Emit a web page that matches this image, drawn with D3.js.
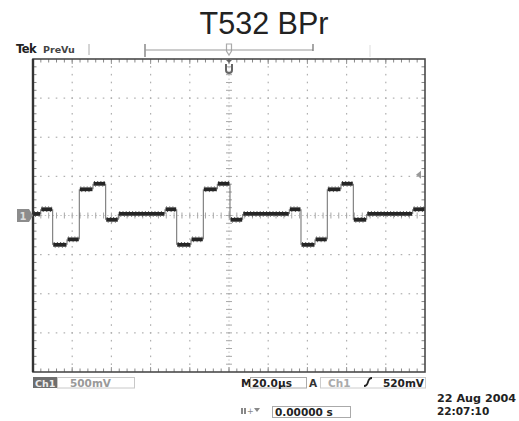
<!DOCTYPE html>
<html>
<head>
<meta charset="utf-8">
<script src="https://cdn.jsdelivr.net/npm/d3@7"></script>
<style>
html,body{margin:0;padding:0;background:#fff;overflow:hidden;}
svg{display:block;}
</style>
</head>
<body>
<script>
// ---- data ----
const title = "T532 BPr";
// step breakpoints of the trace, time in microseconds
const stepTimesUs = [0, 3.93, 10.05, 17.35, 23.62, 30.61, 37.09, 43.52,
  67.35, 73.32, 80.61, 86.89, 94.03, 100.51, 106.99,
  130.77, 136.73, 143.88, 150.15, 157.14, 163.42, 170.26, 193.72];
// level held after each breakpoint, millivolts
const stepLevelsMv = [20, 80, -375, -305, 335, 405, -55, 20,
  80, -375, -305, 335, 405, -55, 20,
  80, -375, -305, 335, 405, -55, 20, 80];
const timeDomainUs = [0, 200];      // 10 div x 20.0 us
const voltDomainMv = [-2000, 2000]; // 8 div x 500 mV
const timeMajorUs = [0, 20, 40, 60, 80, 100, 120, 140, 160, 180, 200];
const voltMajorMv = [-2000, -1500, -1000, -500, 0, 500, 1000, 1500, 2000];
const triggerTimeUs = 100;
const triggerLevelMv = 520;
const ch1Scale = "500mV";
const timeScale = "20.0\u00b5s";
const trigLevelLabel = "520mV";
const positionLabel = "0.00000 s";
const dateLabel = "22 Aug 2004";
const timeLabel = "22:07:10";

// ---- layout ----
const W = 519, H = 421;
const svg = d3.select("body").append("svg").attr("width", W).attr("height", H);
const x = d3.scaleLinear().domain(timeDomainUs).range([33, 425]);
const y = d3.scaleLinear().domain(voltDomainMv).range([372, 59]);

const gridCol = "#b0b0b0";
const minorT = d3.range(timeDomainUs[0], timeDomainUs[1] + 0.001, 4);
const minorV = d3.range(voltDomainMv[0], voltDomainMv[1] + 0.001, 100);

// title
svg.append("text").attr("x", 264).attr("y", 34).attr("text-anchor", "middle")
  .attr("font-family", "Liberation Sans, Arial, sans-serif").attr("font-size", 30.5)
  .attr("fill", "#222").text(title);

const g = svg.append("g");

// dotted major grid lines
timeMajorUs.filter(t => t > timeDomainUs[0] && t < timeDomainUs[1] && t !== triggerTimeUs).forEach(t => {
  g.selectAll(null).data(minorV.slice(1, -1)).join("rect")
    .attr("x", x(t) - 0.6).attr("y", d => y(d) - 0.8).attr("width", 1.2).attr("height", 1.6)
    .attr("fill", gridCol);
});
voltMajorMv.filter(v => v > voltDomainMv[0] && v < voltDomainMv[1] && v !== 0).forEach(v => {
  g.selectAll(null).data(minorT.slice(1, -1)).join("rect")
    .attr("x", d => x(d) - 0.8).attr("y", y(v) - 0.6).attr("width", 1.6).attr("height", 1.2)
    .attr("fill", gridCol);
});
// center lines with minor ticks
g.append("line").attr("x1", x(100)).attr("x2", x(100)).attr("y1", y(2000)).attr("y2", y(-2000))
  .attr("stroke", "#c4c4c4").attr("stroke-width", 1).attr("stroke-dasharray", "1.5,2.4");
g.append("line").attr("y1", y(0)).attr("y2", y(0)).attr("x1", x(0)).attr("x2", x(200))
  .attr("stroke", "#c4c4c4").attr("stroke-width", 1).attr("stroke-dasharray", "1.5,2.4");
g.selectAll(null).data(minorV.slice(1, -1)).join("line")
  .attr("x1", x(100) - 3).attr("x2", x(100) + 3).attr("y1", d => y(d)).attr("y2", d => y(d))
  .attr("stroke", "#a8a8a8").attr("stroke-width", 1);
g.selectAll(null).data(minorT.slice(1, -1)).join("line")
  .attr("y1", y(0) - 3).attr("y2", y(0) + 3).attr("x1", d => x(d)).attr("x2", d => x(d))
  .attr("stroke", "#a8a8a8").attr("stroke-width", 1);
// edge ticks
g.selectAll(null).data(minorT.slice(1, -1)).join("line")
  .attr("x1", d => x(d)).attr("x2", d => x(d)).attr("y1", y(2000)).attr("y2", y(2000) + 3.5)
  .attr("stroke", "#888").attr("stroke-width", 1);
g.selectAll(null).data(minorT.slice(1, -1)).join("line")
  .attr("x1", d => x(d)).attr("x2", d => x(d)).attr("y1", y(-2000)).attr("y2", y(-2000) - 3.5)
  .attr("stroke", "#888").attr("stroke-width", 1);
g.selectAll(null).data(minorV.slice(1, -1)).join("line")
  .attr("y1", d => y(d)).attr("y2", d => y(d)).attr("x1", x(0)).attr("x2", x(0) + 3.5)
  .attr("stroke", "#888").attr("stroke-width", 1);
g.selectAll(null).data(minorV.slice(1, -1)).join("line")
  .attr("y1", d => y(d)).attr("y2", d => y(d)).attr("x1", x(200)).attr("x2", x(200) - 3.5)
  .attr("stroke", "#888").attr("stroke-width", 1);
// longer ticks at major divisions on edges
g.selectAll(null).data(timeMajorUs.slice(1, -1)).join("line")
  .attr("x1", d => x(d)).attr("x2", d => x(d)).attr("y1", y(2000)).attr("y2", y(2000) + 5)
  .attr("stroke", "#999").attr("stroke-width", 1);
g.selectAll(null).data(timeMajorUs.slice(1, -1)).join("line")
  .attr("x1", d => x(d)).attr("x2", d => x(d)).attr("y1", y(-2000)).attr("y2", y(-2000) - 5)
  .attr("stroke", "#999").attr("stroke-width", 1);

// frame
g.append("rect").attr("x", x(0)).attr("y", y(2000)).attr("width", x(200) - x(0)).attr("height", y(-2000) - y(2000))
  .attr("fill", "none").attr("stroke", "#4a4a4a").attr("stroke-width", 1.6);
g.append("line").attr("x1", x(0)).attr("x2", x(0)).attr("y1", y(2000)).attr("y2", y(-2000))
  .attr("stroke", "#333").attr("stroke-width", 2.4);

// trace
const segs = stepTimesUs.map((t, i) => ({
  t0: t, t1: i + 1 < stepTimesUs.length ? stepTimesUs[i + 1] : timeDomainUs[1], v: stepLevelsMv[i]
}));
// transitions (thin)
const tr = g.append("g");
segs.slice(1).forEach((s, i) => {
  tr.append("line").attr("x1", x(s.t0)).attr("x2", x(s.t0))
    .attr("y1", y(segs[i].v)).attr("y2", y(s.v))
    .attr("stroke", "#6a6a6a").attr("stroke-width", 1);
});
// held levels (thick, textured)
g.selectAll(null).data(segs).join("line")
  .attr("x1", d => x(d.t0) + 0.5).attr("x2", d => x(d.t1) - 0.5)
  .attr("y1", d => y(d.v)).attr("y2", d => y(d.v))
  .attr("stroke", "#262626").attr("stroke-width", 3.8);
g.selectAll(null).data(segs).join("line")
  .attr("x1", d => x(d.t0) + 1).attr("x2", d => x(d.t1) - 1)
  .attr("y1", d => y(d.v) - 2.3).attr("y2", d => y(d.v) - 2.3)
  .attr("stroke", "#555").attr("stroke-width", 1).attr("stroke-dasharray", "1,2.2");
g.selectAll(null).data(segs).join("line")
  .attr("x1", d => x(d.t0) + 2).attr("x2", d => x(d.t1) - 1)
  .attr("y1", d => y(d.v) + 2.3).attr("y2", d => y(d.v) + 2.3)
  .attr("stroke", "#555").attr("stroke-width", 1).attr("stroke-dasharray", "1,2.6");

// ground marker (Ch1 reference)
const gy = y(0);
svg.append("path")
  .attr("d", `M17,${gy - 6.5} L29,${gy - 6.5} L${x(0)},${gy} L29,${gy + 6.5} L17,${gy + 6.5} Z`)
  .attr("fill", "#8c8c8c");
svg.append("text").attr("x", 23).attr("y", gy + 4).attr("text-anchor", "middle")
  .attr("font-family", "DejaVu Sans, sans-serif").attr("font-size", 10).attr("font-weight", "bold")
  .attr("fill", "#ddd").text("1");

// trigger level marker (right)
const ty = y(triggerLevelMv);
svg.append("path").attr("d", `M${x(200) - 9},${ty} L${x(200) - 4},${ty - 4} L${x(200) - 4},${ty + 4} Z`)
  .attr("fill", "#999");

// trigger position markers (top)
const tx = x(triggerTimeUs);
svg.append("path")
  .attr("d", `M${tx - 2.5},44 L${tx + 2.5},44 L${tx + 2.5},51 L${tx},55 L${tx - 2.5},51 Z`)
  .attr("fill", "none").attr("stroke", "#aaa").attr("stroke-width", 1.2);
svg.append("path")
  .attr("d", `M${tx - 3},64 L${tx - 3},70 Q${tx - 3},73 ${tx},73 Q${tx + 3},73 ${tx + 3},70 L${tx + 3},64`)
  .attr("fill", "none").attr("stroke", "#666").attr("stroke-width", 2);
svg.append("path").attr("d", `M${tx - 3},60 L${tx + 3},60 L${tx},63 Z`).attr("fill", "#666");

// record-view bracket
svg.append("line").attr("x1", 145).attr("x2", 145).attr("y1", 44).attr("y2", 57).attr("stroke", "#777").attr("stroke-width", 1.3);
svg.append("line").attr("x1", 145).attr("x2", 313).attr("y1", 50).attr("y2", 50).attr("stroke", "#999").attr("stroke-width", 1.2);
svg.append("line").attr("x1", 313).attr("x2", 313).attr("y1", 44).attr("y2", 51).attr("stroke", "#777").attr("stroke-width", 1.3);
svg.append("line").attr("x1", 370).attr("x2", 370).attr("y1", 45).attr("y2", 57).attr("stroke", "#ddd").attr("stroke-width", 1);
svg.append("line").attr("x1", 89).attr("x2", 89).attr("y1", 44).attr("y2", 55).attr("stroke", "#aaa").attr("stroke-width", 1);

// Tek PreVu
const mono = "DejaVu Sans, Verdana, sans-serif";
svg.append("text").attr("x", 16).attr("y", 53).attr("font-family", mono).attr("font-size", 11.5)
  .attr("font-weight", "bold").attr("fill", "#222").attr("letter-spacing", -0.6).text("Tek");
svg.append("text").attr("x", 43).attr("y", 53).attr("font-family", mono).attr("font-size", 9.5)
  .attr("font-weight", "bold").attr("fill", "#444").text("PreVu");

// status bar
svg.append("rect").attr("x", 33).attr("y", 377).attr("width", 24).attr("height", 11).attr("fill", "#6e6e6e");
svg.append("text").attr("x", 35).attr("y", 386.5).attr("font-family", mono).attr("font-size", 9.5)
  .attr("font-weight", "bold").attr("fill", "#eee").text("Ch1");
svg.append("rect").attr("x", 57.5).attr("y", 377.5).attr("width", 77).attr("height", 10.5)
  .attr("fill", "none").attr("stroke", "#c8c8c8").attr("stroke-width", 1);
svg.append("text").attr("x", 70).attr("y", 386.5).attr("font-family", mono).attr("font-size", 10.5)
  .attr("font-weight", "bold").attr("fill", "#999").text(ch1Scale);

svg.append("text").attr("x", 241).attr("y", 387).attr("font-family", mono).attr("font-size", 10.5)
  .attr("font-weight", "bold").attr("fill", "#222").text("M");
svg.append("rect").attr("x", 250.5).attr("y", 377.5).attr("width", 56).attr("height", 10.5)
  .attr("fill", "none").attr("stroke", "#aaa").attr("stroke-width", 1);
svg.append("text").attr("x", 252).attr("y", 387).attr("font-family", mono).attr("font-size", 10.5)
  .attr("font-weight", "bold").attr("fill", "#222").text(timeScale);
svg.append("text").attr("x", 309).attr("y", 387).attr("font-family", mono).attr("font-size", 10.5)
  .attr("font-weight", "bold").attr("fill", "#333").text("A");
svg.append("rect").attr("x", 320.5).attr("y", 377.5).attr("width", 105).attr("height", 10.5)
  .attr("fill", "none").attr("stroke", "#ccc").attr("stroke-width", 1);
svg.append("text").attr("x", 328).attr("y", 387).attr("font-family", mono).attr("font-size", 10.5)
  .attr("font-weight", "bold").attr("fill", "#aaa").text("Ch1");
svg.append("path").attr("d", "M364,386 Q367,386 368,382 Q369,378 372,378")
  .attr("fill", "none").attr("stroke", "#222").attr("stroke-width", 1.8);
svg.append("text").attr("x", 383).attr("y", 387).attr("font-family", mono).attr("font-size", 10.5)
  .attr("font-weight", "bold").attr("fill", "#222").text(trigLevelLabel);

// position row
svg.append("rect").attr("x", 241).attr("y", 408).attr("width", 2).attr("height", 6).attr("fill", "#888");
svg.append("rect").attr("x", 244).attr("y", 408).attr("width", 2).attr("height", 6).attr("fill", "#888");
svg.append("text").attr("x", 247).attr("y", 414).attr("font-family", mono).attr("font-size", 8)
  .attr("fill", "#888").text("+");
svg.append("path").attr("d", "M254,408 L260,408 L257,412 Z").attr("fill", "#888");
svg.append("rect").attr("x", 272.5).attr("y", 406.5).attr("width", 78).attr("height", 11)
  .attr("fill", "none").attr("stroke", "#aaa").attr("stroke-width", 1);
svg.append("text").attr("x", 275).attr("y", 416).attr("font-family", mono).attr("font-size", 10.5)
  .attr("font-weight", "bold").attr("fill", "#222").text(positionLabel);

// date/time
svg.append("text").attr("x", 437).attr("y", 402).attr("font-family", mono).attr("font-size", 11.2)
  .attr("font-weight", "bold").attr("fill", "#222").text(dateLabel);
svg.append("text").attr("x", 437).attr("y", 414.5).attr("font-family", mono).attr("font-size", 10.5)
  .attr("font-weight", "bold").attr("fill", "#222").text(timeLabel);
</script>
</body>
</html>
